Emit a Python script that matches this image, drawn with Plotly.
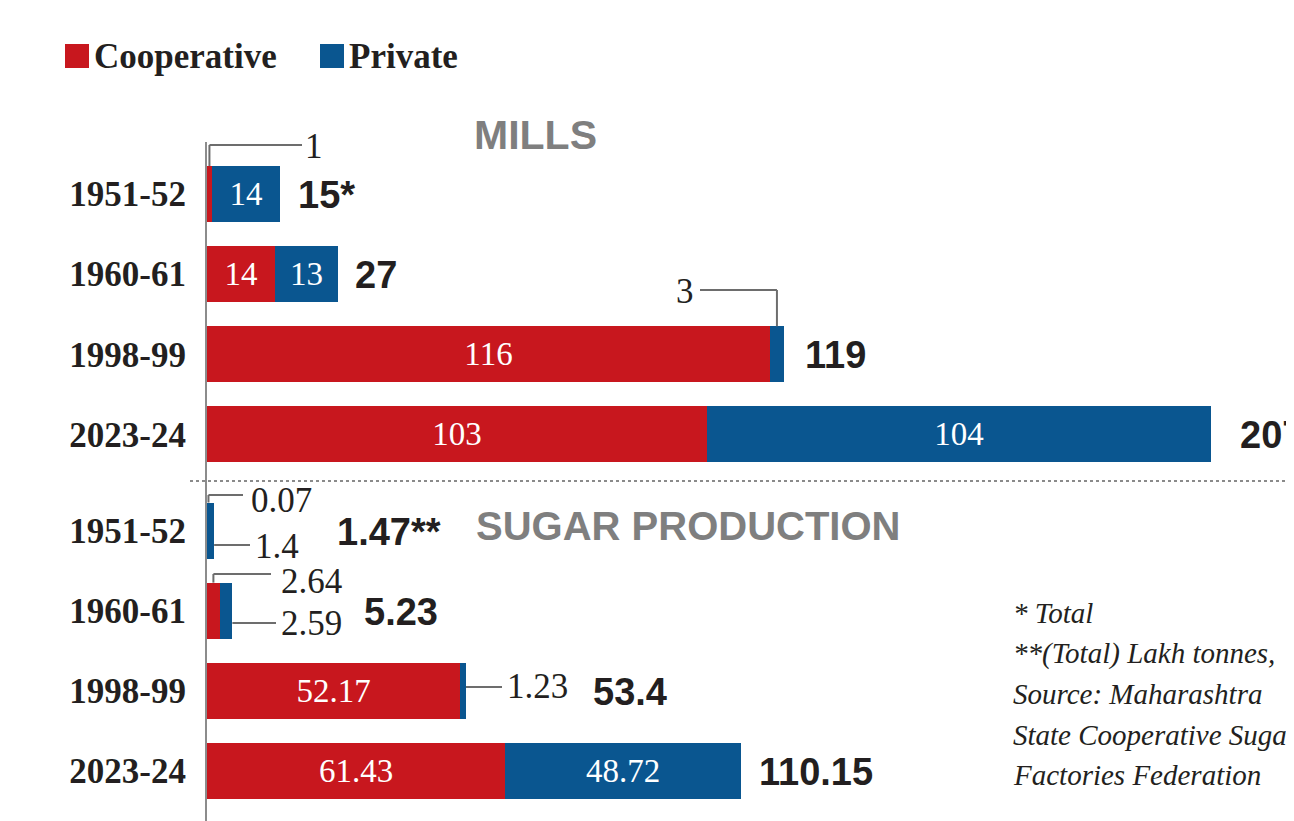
import plotly.graph_objects as go

# ---------------- data ----------------
years = ["1951-52", "1960-61", "1998-99", "2023-24"]
mills_coop = [1, 14, 116, 103]
mills_priv = [14, 13, 3, 104]
mills_total_lbl = ["15*", "27", "119", "207"]
sugar_coop = [0.07, 2.64, 52.17, 61.43]
sugar_priv = [1.4, 2.59, 1.23, 48.72]
sugar_total_lbl = ["1.47**", "5.23", "53.4", "110.15"]
footnotes = ["* Total", "**(Total) Lakh tonnes,", "Source: Maharashtra",
             "State Cooperative Sugar", "Factories Federation"]

# ---------------- layout constants ----------------
OFF = 8                      # page body margin
W, H = 1294 - OFF, 821 - OFF
L, T = 207, 142              # plot-area origin in page pixels
XMAX = 224.1
Y0, Y1 = -0.65, 7.825
PW, PH = 1294 - L, 821 - T
PXX = PW / XMAX              # px per x unit
PXY = PH / (Y1 - Y0)         # px per y unit
RED = "#c8171e"
BLUE = "#0a5690"
DARK = "#231f20"
GREY = "#7f7f7f"
SERIF = "Liberation Serif, DejaVu Serif, serif"
SANS = "Liberation Sans, Arial, sans-serif"
BARW = 0.7

mills_y = [0, 1, 2, 3]
sugar_y = [4.2, 5.2, 6.2, 7.2]
ypos = mills_y + sugar_y
coop = mills_coop + sugar_coop
priv = mills_priv + sugar_priv
totals = [a + b for a, b in zip(coop, priv)]
total_lbl = mills_total_lbl + sugar_total_lbl

def fmt(v):
    return f"{v:g}"

# inside labels (small segments get callouts instead)
coop_text = ["", fmt(14), fmt(116), fmt(103), "", "", fmt(52.17), fmt(61.43)]
priv_text = [fmt(14), fmt(13), "", fmt(104), "", "", "", fmt(48.72)]

fig = go.Figure()
fig.add_trace(go.Bar(
    y=ypos, x=coop, orientation="h", name="Cooperative", width=BARW,
    marker=dict(color=RED, line=dict(width=0)),
    text=coop_text, textposition="inside", insidetextanchor="middle",
    textangle=0, textfont=dict(family=SERIF, size=33, color="white"),
    showlegend=False, hoverinfo="skip"))
fig.add_trace(go.Bar(
    y=ypos, x=priv, orientation="h", name="Private", width=BARW,
    marker=dict(color=BLUE, line=dict(width=0)),
    text=priv_text, textposition="inside", insidetextanchor="middle",
    textangle=0, textfont=dict(family=SERIF, size=33, color="white"),
    showlegend=False, hoverinfo="skip"))

def px2x(px):
    return (px - L) / PXX

def py2y(py):
    return Y0 + (py - T) / PXY

def px_paper(px):
    return (px - L) / PW

def py_paper(py):
    return 1 - (py - T) / PH

shapes = []
annotations = []

# totals
tot_shift = [16, 15, 19, 27, 121, 130, 125, 16]
for yv, tv, lbl, sh in zip(ypos, totals, total_lbl, tot_shift):
    annotations.append(dict(
        x=tv, y=yv, xref="x", yref="y", text=f"<b>{lbl}</b>", showarrow=False,
        xanchor="left", yanchor="middle", xshift=sh, yshift=-1,
        font=dict(family=SANS, size=38, color=DARK)))

LINE = dict(color="#6d6d6d", width=2)

def seg(x0, y0, x1, y1):
    shapes.append(dict(type="line", xref="x", yref="y", x0=x0, y0=y0,
                       x1=x1, y1=y1, line=LINE, layer="above"))

def callout_text(txt, xpx, ypx):
    annotations.append(dict(
        x=px2x(xpx), y=py2y(ypx), xref="x", yref="y", text=txt,
        showarrow=False, xanchor="left", yanchor="middle",
        font=dict(family=SERIF, size=35, color=DARK)))

bar_top = lambda yv: yv - BARW / 2

# Mills 1951-52 cooperative = 1
xc = mills_coop[0] / 2
ty = py2y(145)
seg(xc, bar_top(mills_y[0]), xc, ty)
seg(xc, ty, px2x(302), ty)
callout_text(fmt(mills_coop[0]), 303, 146)

# Mills 1998-99 private = 3
xc = mills_coop[2] + mills_priv[2] / 2
ty = py2y(290)
seg(xc, bar_top(mills_y[2]), xc, ty)
seg(xc, ty, px2x(700), ty)
callout_text(fmt(mills_priv[2]), 674, 291)

# Sugar 1951-52 cooperative 0.07 & private 1.4
ty = py2y(495)
seg(0.3, bar_top(sugar_y[0]), 0.3, ty)
seg(0.3, ty, px2x(243), ty)
callout_text(fmt(sugar_coop[0]), 249, 500)
ty = py2y(545)
seg(totals[4], ty, px2x(250), ty)
callout_text(fmt(sugar_priv[0]), 253, 546)

# Sugar 1960-61 cooperative 2.64 & private 2.59
xc = sugar_coop[1] / 2
ty = py2y(574)
seg(xc, bar_top(sugar_y[1]), xc, ty)
seg(xc, ty, px2x(271), ty)
callout_text(fmt(sugar_coop[1]), 279, 581)
ty = py2y(623)
seg(totals[5], ty, px2x(276), ty)
callout_text(fmt(sugar_priv[1]), 279, 623)

# Sugar 1998-99 private 1.23
ty = py2y(687)
seg(totals[6], ty, px2x(502), ty)
callout_text(fmt(sugar_priv[2]), 505, 686)

# separator
shapes.append(dict(type="line", xref="paper", yref="y",
                   x0=px_paper(190), x1=1.02, y0=py2y(481), y1=py2y(481),
                   line=dict(color="#8a8a8a", width=2, dash="dot")))

# section titles
annotations.append(dict(x=px_paper(472), y=py_paper(135), xref="paper", yref="paper",
                        text="<b>MILLS</b>", showarrow=False, xanchor="left",
                        yanchor="middle", font=dict(family=SANS, size=41, color=GREY)))
annotations.append(dict(x=px_paper(474), y=py_paper(526), xref="paper", yref="paper",
                        text="<b>SUGAR PRODUCTION</b>", showarrow=False, xanchor="left",
                        yanchor="middle", font=dict(family=SANS, size=40, color=GREY)))

# legend
for (x0, name, col) in [(65, "Cooperative", RED), (320, "Private", BLUE)]:
    shapes.append(dict(type="rect", xref="paper", yref="paper",
                       x0=px_paper(x0), x1=px_paper(x0 + 24),
                       y0=py_paper(68), y1=py_paper(44),
                       fillcolor=col, line=dict(width=0)))
    annotations.append(dict(x=px_paper(x0 + 27), y=py_paper(56), xref="paper",
                            yref="paper", text=f"<b>{name}</b>", showarrow=False,
                            xanchor="left", yanchor="middle",
                            font=dict(family=SERIF, size=35, color=DARK)))

# footnotes
for i, line in enumerate(footnotes):
    annotations.append(dict(x=px_paper(1011), y=py_paper(613 + i * 40.5),
                            xref="paper", yref="paper", text=f"<i>{line}</i>",
                            showarrow=False, xanchor="left", yanchor="middle",
                            font=dict(family=SERIF, size=29, color=DARK)))

fig.update_layout(
    width=W, height=H, barmode="stack", bargap=0,
    margin=dict(l=L - OFF, r=0, t=T - OFF, b=0, autoexpand=False),
    paper_bgcolor="white", plot_bgcolor="white",
    xaxis=dict(range=[0, XMAX], visible=False, fixedrange=True),
    yaxis=dict(range=[Y1, Y0], tickmode="array", tickvals=ypos,
               ticktext=[f"<b>{y}</b>" for y in years + years],
               showgrid=False, zeroline=False,
               showline=True, linecolor="#8c8c8c", linewidth=2,
               ticks="", ticklabelstandoff=12,
               tickfont=dict(family=SERIF, size=35, color=DARK)),
    shapes=shapes, annotations=annotations, showlegend=False,
)

fig.write_html("out.html")
